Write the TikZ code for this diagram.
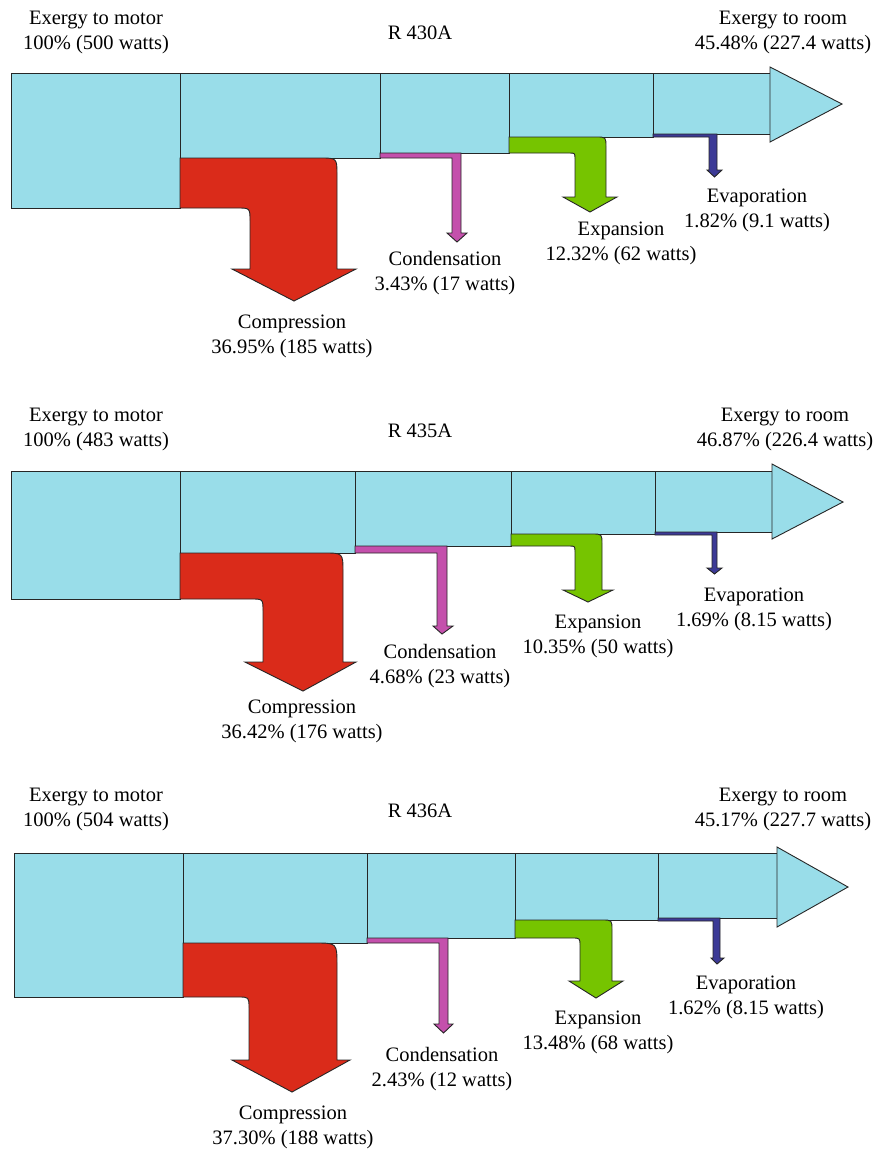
\documentclass[tikz,border=0pt]{standalone}
\usepackage{fontspec}
\setmainfont{Liberation Serif}
\newfontfamily\lblserif{Liberation Serif}
\definecolor{flowcyan}{RGB}{153,221,233}
\definecolor{flowred}{RGB}{218,43,26}
\definecolor{flowpink}{RGB}{196,80,172}
\definecolor{flowgreen}{RGB}{118,196,0}
\definecolor{flownavy}{RGB}{60,58,150}
\tikzset{
  edge/.style={draw=black!85, line width=0.9pt, line join=miter},
  cyanbox/.style={edge, fill=flowcyan},
  redflow/.style={edge, fill=flowred},
  pinkflow/.style={edge, fill=flowpink},
  greenflow/.style={edge, fill=flowgreen},
  navyflow/.style={edge, fill=flownavy},
  lbl/.style={align=center, inner sep=0pt, yshift=-2.5pt, font=\lblserif\fontsize{20.5}{25}\selectfont}
}
\begin{document}
\begin{tikzpicture}[x=1pt,y=-1pt]
\useasboundingbox (0,0) rectangle (873,1149);
\fill[white] (0,0) rectangle (873,1149);

% ================= Diagram 1 : R 430A =================
\filldraw[cyanbox] (11,73) rectangle (180,208);
\filldraw[cyanbox] (180,73) rectangle (380,158);
\filldraw[cyanbox] (380,73) rectangle (509,153);
\filldraw[cyanbox] (509,73) rectangle (653,137);
\filldraw[cyanbox] (653,73) rectangle (770,134);
\filldraw[cyanbox] (770,67) -- (842,104) -- (770,142) -- cycle;
\filldraw[redflow] (180,158) -- (320,158) .. controls (337,158) .. (337,175) -- (337,269) -- (356,269) -- (294,301) -- (232,269) -- (250,269) -- (250,221) .. controls (250,208) .. (237,208) -- (180,208) -- cycle;
\filldraw[pinkflow] (380,153) -- (461,153) -- (461,233) -- (467,233) -- (457,242) -- (447,233) -- (452,233) -- (452,158) -- (380,158) -- cycle;
\filldraw[greenflow] (509,137) -- (596,137) .. controls (606,137) .. (606,147) -- (606,197) -- (617,197) -- (590,212) -- (563,197) -- (575,197) -- (575,159) .. controls (575,153) .. (569,153) -- (509,153) -- cycle;
\filldraw[navyflow] (653,134) -- (717,134) -- (717,170) -- (722,170) -- (714.5,177) -- (707,170) -- (709,170) -- (709,137) -- (653,137) -- cycle;

\node[lbl] (m1) at (96,29.5) {Exergy to motor\\100\% (500 watts)};
\node[lbl] (t1) at (420,30) {R 430A};
\node[lbl] (r1) at (783,29.5) {Exergy to room\\45.48\% (227.4 watts)};
\node[lbl] (cp1) at (292,334) {Compression\\36.95\% (185 watts)};
\node[lbl] (cd1) at (445,270.5) {Condensation\\3.43\% (17 watts)};
\node[lbl] (ex1) at (621,241) {Expansion\\12.32\% (62 watts)};
\node[lbl] (ev1) at (757,207.5) {Evaporation\\1.82\% (9.1 watts)};

% ================= Diagram 2 : R 435A =================
\filldraw[cyanbox] (11,471) rectangle (180,599);
\filldraw[cyanbox] (180,471) rectangle (355,553);
\filldraw[cyanbox] (355,471) rectangle (511,546);
\filldraw[cyanbox] (511,471) rectangle (655,534);
\filldraw[cyanbox] (655,471) rectangle (772,532);
\filldraw[cyanbox] (772,464) -- (843,502) -- (772,539) -- cycle;
\filldraw[redflow] (180,553) -- (324,553) .. controls (343,553) .. (343,572) -- (343,662) -- (356,662) -- (303,691) -- (245,662) -- (263,662) -- (263,611) .. controls (263,599) .. (251,599) -- (180,599) -- cycle;
\filldraw[pinkflow] (355,546) -- (447,546) -- (447,626) -- (453,626) -- (442,634) -- (433,626) -- (437,626) -- (437,553) -- (355,553) -- cycle;
\filldraw[greenflow] (511,534) -- (592,534) .. controls (602,534) .. (602,544) -- (602,590) -- (613,590) -- (588,602) -- (563,590) -- (575,590) -- (575,552) .. controls (575,546) .. (569,546) -- (511,546) -- cycle;
\filldraw[navyflow] (655,532) -- (717,532) -- (717,568) -- (722,568) -- (714.5,574) -- (707,568) -- (712,568) -- (712,535) -- (655,535) -- cycle;

\node[lbl] (m2) at (96,426.5) {Exergy to motor\\100\% (483 watts)};
\node[lbl] (t2) at (420,428) {R 435A};
\node[lbl] (r2) at (785,426.5) {Exergy to room\\46.87\% (226.4 watts)};
\node[lbl] (cp2) at (302,719) {Compression\\36.42\% (176 watts)};
\node[lbl] (cd2) at (440,663.5) {Condensation\\4.68\% (23 watts)};
\node[lbl] (ex2) at (598,634) {Expansion\\10.35\% (50 watts)};
\node[lbl] (ev2) at (754,606.5) {Evaporation\\1.69\% (8.15 watts)};

% ================= Diagram 3 : R 436A =================
\filldraw[cyanbox] (14,853) rectangle (183,997);
\filldraw[cyanbox] (183,853) rectangle (367,943);
\filldraw[cyanbox] (367,853) rectangle (515,938);
\filldraw[cyanbox] (515,853) rectangle (658,920);
\filldraw[cyanbox] (658,853) rectangle (777,918);
\filldraw[cyanbox] (777,847) -- (848,887) -- (777,927) -- cycle;
\filldraw[redflow] (183,943) -- (315,943) .. controls (337,943) .. (337,965) -- (337,1060) -- (350,1060) -- (292,1092) -- (232,1060) -- (249,1060) -- (249,1008) .. controls (249,997) .. (238,997) -- (183,997) -- cycle;
\filldraw[pinkflow] (367,938) -- (448,938) -- (448,1024) -- (453,1024) -- (443.5,1033) -- (434,1024) -- (439,1024) -- (439,943) -- (367,943) -- cycle;
\filldraw[greenflow] (515,920) -- (602,920) .. controls (612,920) .. (612,930) -- (612,981) -- (623,981) -- (596,998) -- (569,981) -- (580,981) -- (580,946) .. controls (580,938) .. (572,938) -- (515,938) -- cycle;
\filldraw[navyflow] (658,918) -- (720,918) -- (720,958) -- (724,958) -- (717,964) -- (711,958) -- (713,958) -- (713,921) -- (658,921) -- cycle;

\node[lbl] (m3) at (96,807) {Exergy to motor\\100\% (504 watts)};
\node[lbl] (t3) at (420,808) {R 436A};
\node[lbl] (r3) at (783,807) {Exergy to room\\45.17\% (227.7 watts)};
\node[lbl] (cp3) at (293,1124.5) {Compression\\37.30\% (188 watts)};
\node[lbl] (cd3) at (442,1066.5) {Condensation\\2.43\% (12 watts)};
\node[lbl] (ex3) at (598,1029.5) {Expansion\\13.48\% (68 watts)};
\node[lbl] (ev3) at (746,994.5) {Evaporation\\1.62\% (8.15 watts)};
\end{tikzpicture}
\end{document}
